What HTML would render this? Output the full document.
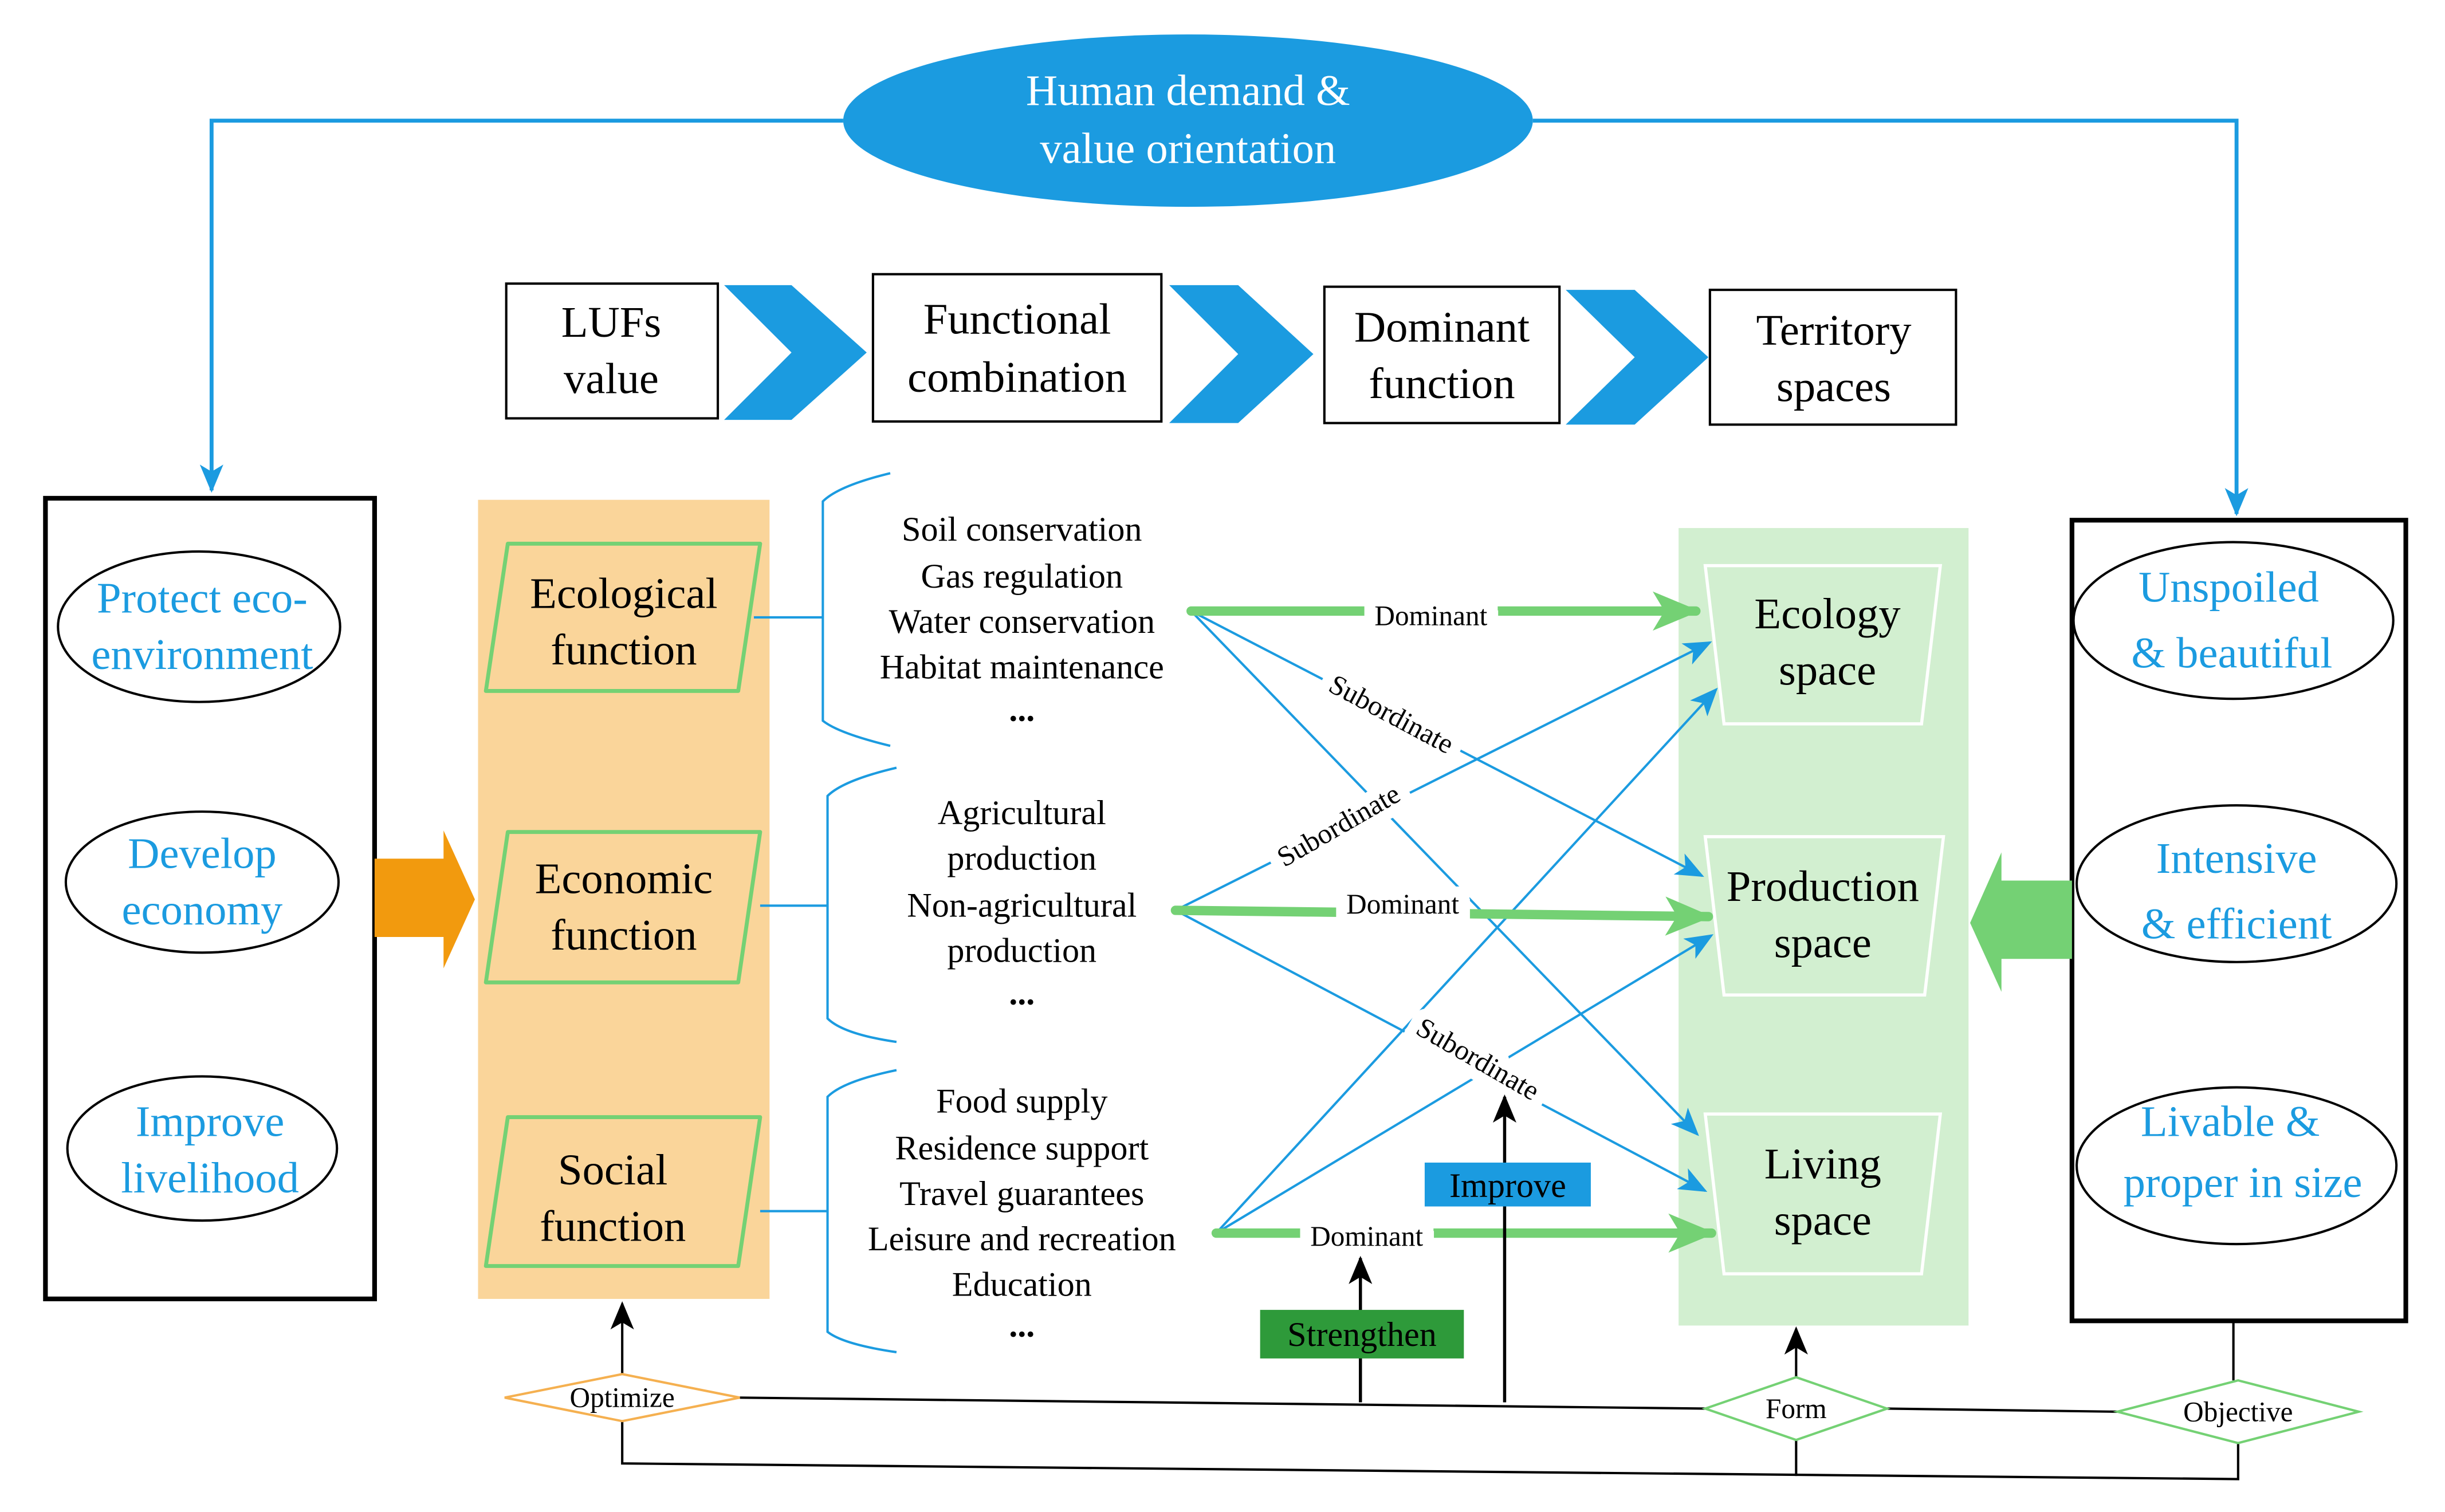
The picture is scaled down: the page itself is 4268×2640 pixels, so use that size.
<!DOCTYPE html>
<html><head><meta charset="utf-8"><style>
html,body{margin:0;padding:0;background:#fff;}
svg{display:block;font-family:"Liberation Serif","Times New Roman",Times,serif;}
svg text{font-family:"Liberation Serif","Times New Roman",Times,serif;}
</style></head><body>
<svg width="4268" height="2640" viewBox="0 0 1560 965" preserveAspectRatio="none" xmlns="http://www.w3.org/2000/svg" font-family="Liberation Serif, Times New Roman, serif">
<defs>
<marker id="bB" viewBox="0 0 12 10" markerWidth="18" markerHeight="15" refX="11" refY="5" orient="auto" markerUnits="userSpaceOnUse"><path d="M0,0 L12,5 L0,10 L3,5 z" fill="#1b9be0"/></marker>
<marker id="gA" viewBox="0 0 12 10" markerWidth="30" markerHeight="26" refX="11" refY="5" orient="auto" markerUnits="userSpaceOnUse"><path d="M0,0 L12,5 L0,10 L3,5 z" fill="#74d174"/></marker>
<marker id="kA" viewBox="0 0 12 10" markerWidth="18" markerHeight="15" refX="11" refY="5" orient="auto" markerUnits="userSpaceOnUse"><path d="M0,0 L12,5 L0,10 L3,5 z" fill="#000"/></marker>
</defs>

<path d="M538,77 H135 V313" fill="none" stroke="#1b9be0" stroke-width="2.5" marker-end="url(#bB)"/>
<path d="M978,77 H1427 V328" fill="none" stroke="#1b9be0" stroke-width="2.5" marker-end="url(#bB)"/>
<ellipse cx="758" cy="77" rx="220" ry="55" fill="#1b9be0"/>
<text x="758" y="67" font-size="28" fill="#fff" text-anchor="middle">Human demand &amp;</text>
<text x="758" y="104" font-size="28" fill="#fff" text-anchor="middle">value orientation</text>

<g stroke="#000" stroke-width="1.5" fill="#fff">
<rect x="323" y="181" width="135" height="86"/>
<rect x="557" y="175" width="184" height="94"/>
<rect x="845" y="183" width="150" height="87"/>
<rect x="1091" y="185" width="157" height="86"/>
</g>
<g fill="#1b9be0">
<polygon points="462,182 505,182 553,225 505,268 462,268 505,225"/>
<polygon points="746,182 790,182 838,226 790,270 746,270 790,226"/>
<polygon points="999,185 1043,185 1090,228 1043,271 999,271 1043,228"/>
</g>
<g font-size="28" text-anchor="middle" fill="#000">
<text x="390" y="215">LUFs</text><text x="390" y="251">value</text>
<text x="649" y="213">Functional</text><text x="649" y="250">combination</text>
<text x="920" y="218">Dominant</text><text x="920" y="254">function</text>
<text x="1170" y="220">Territory</text><text x="1170" y="256">spaces</text>
</g>

<rect x="29" y="318" width="210" height="511" fill="#fff" stroke="#000" stroke-width="3"/>
<g fill="#fff" stroke="#000" stroke-width="1.5">
<ellipse cx="127" cy="400" rx="90" ry="48"/>
<ellipse cx="129" cy="563" rx="87" ry="45"/>
<ellipse cx="129" cy="733" rx="86" ry="46"/>
</g>
<g font-size="28" fill="#1b9be0" text-anchor="middle">
<text x="129" y="391">Protect eco-</text><text x="129" y="427">environment</text>
<text x="129" y="554">Develop</text><text x="129" y="590">economy</text>
<text x="134" y="725">Improve</text><text x="134" y="761">livelihood</text>
</g>
<polygon points="239,548 283,548 283,530 303,574 283,618 283,598 239,598" fill="#f29a0e"/>

<rect x="305" y="319" width="186" height="510" fill="#fad59a"/>
<g fill="#fad59a" stroke="#74d174" stroke-width="2.5" stroke-linejoin="round">
<polygon points="324,347 485,347 471,441 310,441"/>
<polygon points="324,531 485,531 471,627 310,627"/>
<polygon points="324,713 485,713 471,808 310,808"/>
</g>
<g font-size="28" fill="#000" text-anchor="middle">
<text x="398" y="388">Ecological</text><text x="398" y="424">function</text>
<text x="398" y="570">Economic</text><text x="398" y="606">function</text>
<text x="391" y="756">Social</text><text x="391" y="792">function</text>
</g>

<g fill="none" stroke="#1b9be0" stroke-width="1.5">
<path d="M481,394 H525 M568,302 Q535,310 525,320 V460 Q535,468 568,476"/>
<path d="M485,578 H528 M572,490 Q538,498 528,508 V650 Q538,660 572,665"/>
<path d="M485,773 H528 M572,683 Q538,690 528,700 V850 Q538,858 572,863"/>
</g>
<g font-size="22" fill="#000" text-anchor="middle">
<text x="652" y="345">Soil conservation</text>
<text x="652" y="375">Gas regulation</text>
<text x="652" y="404">Water conservation</text>
<text x="652" y="433">Habitat maintenance</text>
<text x="652" y="460" font-weight="bold">...</text>
<text x="652" y="526">Agricultural</text>
<text x="652" y="555">production</text>
<text x="652" y="585">Non-agricultural</text>
<text x="652" y="614">production</text>
<text x="652" y="641" font-weight="bold">...</text>
<text x="652" y="710">Food supply</text>
<text x="652" y="740">Residence support</text>
<text x="652" y="769">Travel guarantees</text>
<text x="652" y="798">Leisure and recreation</text>
<text x="652" y="827">Education</text>
<text x="652" y="853" font-weight="bold">...</text>
</g>

<rect x="1071" y="337" width="185" height="509" fill="#d2efd0"/>
<g fill="#d2efd0" stroke="#fff" stroke-width="2">
<polygon points="1088,361 1238,361 1226,462 1100,462"/>
<polygon points="1088,534 1240,534 1228,635 1100,635"/>
<polygon points="1088,711 1238,711 1226,813 1100,813"/>
</g>
<g font-size="28" fill="#000" text-anchor="middle">
<text x="1166" y="401">Ecology</text><text x="1166" y="437">space</text>
<text x="1163" y="575">Production</text><text x="1163" y="611">space</text>
<text x="1163" y="752">Living</text><text x="1163" y="788">space</text>
</g>

<rect x="1322" y="332" width="213" height="511" fill="#fff" stroke="#000" stroke-width="3"/>
<g fill="#fff" stroke="#000" stroke-width="1.5">
<ellipse cx="1425" cy="396" rx="102" ry="50"/>
<ellipse cx="1427" cy="564" rx="102" ry="50"/>
<ellipse cx="1427" cy="744" rx="102" ry="50"/>
</g>
<g font-size="28" fill="#1b9be0" text-anchor="middle">
<text x="1422" y="384">Unspoiled</text><text x="1424" y="426">&amp;  beautiful</text>
<text x="1427" y="557">Intensive</text><text x="1427" y="599">&amp; efficient</text>
<text x="1423" y="725">Livable &amp;</text><text x="1431" y="764">proper in size</text>
</g>
<polygon points="1322,562 1277,562 1277,544 1257,589 1277,633 1277,612 1322,612" fill="#74d174"/>

<g fill="none" stroke="#1b9be0" stroke-width="1.5" marker-end="url(#bB)">
<line x1="760" y1="390" x2="1086" y2="559"/>
<line x1="760" y1="390" x2="1083" y2="724"/>
<line x1="750" y1="581" x2="1091" y2="410"/>
<line x1="750" y1="581" x2="1088" y2="760"/>
<line x1="776" y1="787" x2="1095" y2="440"/>
<line x1="776" y1="787" x2="1092" y2="597"/>
</g>
<g stroke="#74d174" stroke-width="6" fill="none" stroke-linecap="round">
<line x1="760" y1="390" x2="1082" y2="390" marker-end="url(#gA)"/>
<line x1="750" y1="581" x2="1090" y2="585" marker-end="url(#gA)"/>
<line x1="776" y1="787" x2="1092" y2="787" marker-end="url(#gA)"/>
</g>
<g font-size="18" fill="#000" text-anchor="middle" stroke="#fff" stroke-width="14" paint-order="stroke">
<text x="913" y="399">Dominant</text>
<text x="895" y="583">Dominant</text>
<text x="872" y="795">Dominant</text>
<text transform="translate(885,461) rotate(28)">Subordinate</text>
<text transform="translate(857,532) rotate(-30)">Subordinate</text>
<text transform="translate(940,681) rotate(30)">Subordinate</text>
</g>

<line x1="960" y1="895" x2="960" y2="700" stroke="#000" stroke-width="2" marker-end="url(#kA)"/>
<line x1="868" y1="895" x2="868" y2="803" stroke="#000" stroke-width="2" marker-end="url(#kA)"/>
<rect x="909" y="742" width="106" height="28" fill="#1b9be0"/>
<text x="962" y="764" font-size="22" text-anchor="middle" fill="#000">Improve</text>
<rect x="804" y="836" width="130" height="31" fill="#2e9a3a"/>
<text x="869" y="859" font-size="22" text-anchor="middle" fill="#000">Strengthen</text>

<g fill="none" stroke="#000" stroke-width="1.5">
<line x1="472" y1="892" x2="1088" y2="899"/>
<line x1="1204" y1="899" x2="1351" y2="901"/>
<line x1="1425" y1="843" x2="1425" y2="881"/>
<path d="M397,907 V934 L1428,944 V921"/>
<line x1="1146" y1="919" x2="1146" y2="942"/>
</g>
<line x1="397" y1="877" x2="397" y2="832" stroke="#000" stroke-width="1.5" marker-end="url(#kA)"/>
<line x1="1146" y1="879" x2="1146" y2="848" stroke="#000" stroke-width="1.5" marker-end="url(#kA)"/>
<polygon points="322,892 397,877 472,892 397,907" fill="#fff" stroke="#f5b050" stroke-width="1.5"/>
<polygon points="1088,899 1146,879 1204,899 1146,919" fill="#fff" stroke="#74d174" stroke-width="1.5"/>
<polygon points="1351,901 1428,881 1505,901 1428,921" fill="#fff" stroke="#74d174" stroke-width="1.5"/>
<g font-size="18" fill="#000" text-anchor="middle">
<text x="397" y="898">Optimize</text>
<text x="1146" y="905">Form</text>
<text x="1428" y="907">Objective</text>
</g>
</svg>
</body></html>
